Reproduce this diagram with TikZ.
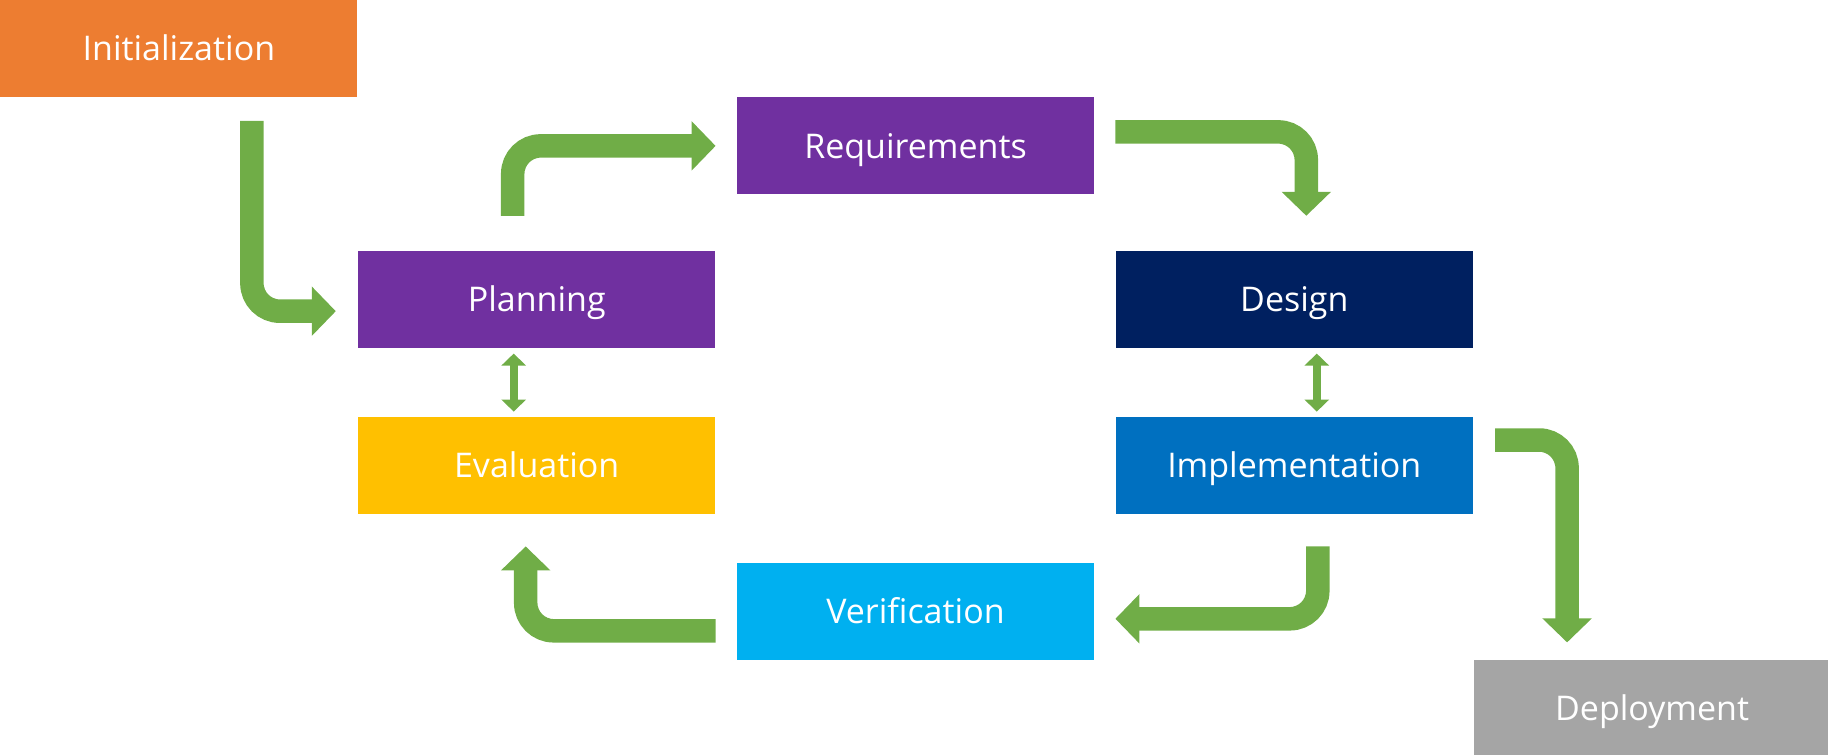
\documentclass[tikz,border=0pt]{standalone}
\usepackage{fontspec}
\setmainfont{Open Sans}
\usepackage{tikz}
\usetikzlibrary{arrows.meta, positioning, calc}
\definecolor{initorange}{HTML}{ED7D31}
\definecolor{stagepurple}{HTML}{7030A0}
\definecolor{designnavy}{HTML}{002060}
\definecolor{evalgold}{HTML}{FFC000}
\definecolor{implblue}{HTML}{0070C0}
\definecolor{verifcyan}{HTML}{00B0F0}
\definecolor{deploygray}{HTML}{A5A5A5}
\definecolor{flowgreen}{HTML}{70AD47}

\begin{document}
\begin{tikzpicture}[
      stage/.style={minimum width=178.5pt, minimum height=48.5pt, inner sep=0pt, text=white, font=\fontsize{17}{20}\selectfont, text height=12.1pt, text depth=0pt},
      flow/.style={draw=flowgreen, line width=11.75pt, rounded corners=14pt, -{Triangle[length=12pt, width=24pt]}},
      link/.style={draw=flowgreen, line width=4pt, {Triangle[length=6pt, width=12pt]}-{Triangle[length=6pt, width=12pt]}}
    ]
      \useasboundingbox (0,0) rectangle (914pt,-377.5pt);

      % Start stage
      \node[stage, fill=initorange, anchor=north west] (init) at (0, 0) {Initialization};

      % Left column
      \node[stage, fill=stagepurple, anchor=north west] (plan) at ([yshift=-76.5pt]init.south east) {Planning};
      \node[stage, fill=evalgold, anchor=north west] (eval) at ([yshift=-34pt]plan.south west) {Evaluation};

      % Middle column
      \node[stage, fill=stagepurple, anchor=south west] (req) at ([xshift=10.5pt, yshift=28pt]plan.north east) {Requirements};
      \node[stage, fill=verifcyan, anchor=north west] (verif) at ([xshift=10.5pt, yshift=-24pt]eval.south east) {Verification};

      % Right column
      \node[stage, fill=designnavy, anchor=north west] (design) at ([xshift=10.5pt, yshift=-28pt]req.south east) {Design};
      \node[stage, fill=implblue, anchor=north west] (impl) at ([yshift=-34pt]design.south west) {Implementation};

      % End stage
      \node[stage, fill=deploygray, anchor=north west] (deploy) at ([yshift=-72.5pt]impl.south east) {Deployment};

      % Cycle arrows
      \draw[flow] ([xshift=36.5pt, yshift=-11.5pt]init.south) |- ([xshift=-11pt, yshift=-5.75pt]plan.west);
      \draw[flow] ([xshift=-12pt, yshift=17.5pt]plan.north) |- ([xshift=-10.5pt]req.west);
      \draw[flow] ([xshift=10.5pt, yshift=7pt]req.east) -| ([xshift=6pt, yshift=17.5pt]design.north);
      \draw[flow] ([xshift=11.75pt, yshift=-16pt]impl.south) |- ([xshift=10.5pt, yshift=-3.75pt]verif.east);
      \draw[flow] ([xshift=-10.5pt, yshift=-9.75pt]verif.west) -| ([xshift=-5.5pt, yshift=-16pt]eval.south);
      \draw[flow] ([xshift=11pt, yshift=12.75pt]impl.east) -| ([xshift=-42.5pt, yshift=8.5pt]deploy.north);

      % Two-way links
      \draw[link] ([xshift=-11.5pt, yshift=-2.5pt]plan.south) -- ([xshift=-11.5pt, yshift=2.5pt]eval.north);
      \draw[link] ([xshift=11.25pt, yshift=-2.5pt]design.south) -- ([xshift=11.25pt, yshift=2.5pt]impl.north);

    \end{tikzpicture}
\end{document}
